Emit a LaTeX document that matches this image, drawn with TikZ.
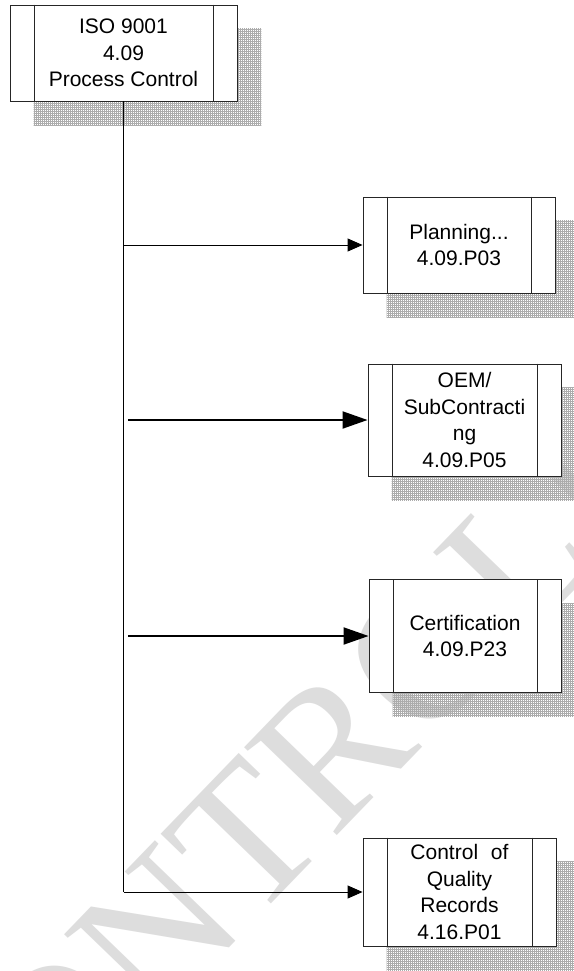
\documentclass[tikz,border=0pt]{standalone}
\usepackage{fontspec}
\setmainfont{Liberation Sans}
\newfontfamily\wmfont{Liberation Serif}
\usetikzlibrary{arrows.meta,patterns.meta}
\pgfdeclarelayer{wmlayer}
\pgfdeclarelayer{shadowlayer}
\pgfsetlayers{wmlayer,shadowlayer,main}
\newcommand\procdeco[1]{%
  \draw[boxline] ([xshift=24.5pt]#1.north west) -- ([xshift=24.5pt]#1.south west);
  \draw[boxline] ([xshift=-24.5pt]#1.north east) -- ([xshift=-24.5pt]#1.south east);
  \begin{pgfonlayer}{shadowlayer}
    \fill[boxshadow] ([shift={(24,24)}]#1.north west) rectangle ([shift={(24,24)}]#1.south east);
  \end{pgfonlayer}}
\begin{document}
\begin{tikzpicture}[x=1pt,y=-1pt,
  boxline/.style={draw=black!85, line width=0.9pt},
  procbox/.style={draw=black!85, line width=0.9pt, fill=white, rectangle, inner sep=0pt,
    align=center, font=\fontsize{21}{26.7}\selectfont},
  boxshadow/.style={pattern={Hatch[angle=0,distance=2pt,line width=0.6pt]}, pattern color=gray!65},
  thinarrow/.style={line width=0.9pt, -{Triangle[length=15pt,width=13pt]}},
  thickarrow/.style={line width=2pt, -{Triangle[length=25pt,width=17pt]}},
  trunk/.style={line width=0.9pt},
  wmtext/.style={text=gray!27, font=\fontsize{195}{195}\selectfont\wmfont, inner sep=0pt}]
\useasboundingbox (0,0) rectangle (573,971);

\begin{pgfonlayer}{wmlayer}
  \fill[white] (0,0) rectangle (573,971);
  \begin{scope}
    \clip (0,0) rectangle (573,971);
    \node[wmtext, rotate=46, anchor=base west] (wm) at (-36,1222) {CONTROLLED};
  \end{scope}
\end{pgfonlayer}

\node[procbox, minimum width=227pt, minimum height=96pt] (iso) at (123.5,53)
  {ISO 9001\\4.09\\Process Control};
\procdeco{iso}
\node[procbox, minimum width=192pt, minimum height=96pt] (plan) at (459,245)
  {Planning...\\4.09.P03};
\procdeco{plan}
\node[procbox, minimum width=193pt, minimum height=112pt] (oem) at (464.5,420)
  {OEM/\\SubContracti\\ng\\4.09.P05};
\procdeco{oem}
\node[procbox, minimum width=192pt, minimum height=113pt] (cert) at (465,636)
  {Certification\\4.09.P23};
\procdeco{cert}
\node[procbox, minimum width=193pt, minimum height=108pt] (cqr) at (459.5,892)
  {Control\hspace{7pt} of\\Quality\\Records\\4.16.P01};
\procdeco{cqr}

\coordinate (s2) at (128,420);
\coordinate (s3) at (128,636);

\draw[trunk] (iso.south) -- (iso.south |- cqr.west);
\draw[thinarrow] (iso.south |- plan.west) -- (plan.west);
\draw[thickarrow] (s2) -- (s2 -| oem.west);
\draw[thickarrow] (s3) -- (s3 -| cert.west);
\draw[thinarrow] (iso.south |- cqr.west) -- (cqr.west);
\end{tikzpicture}
\end{document}
